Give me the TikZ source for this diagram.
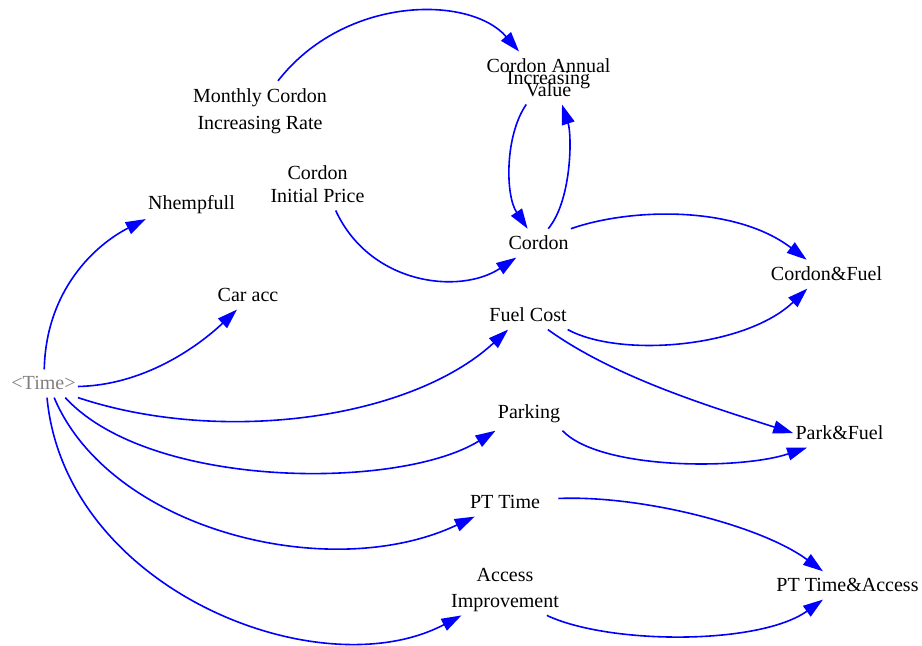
\documentclass[tikz,border=0pt]{standalone}
\usepackage{fontspec}
\setmainfont{Liberation Serif}
\usetikzlibrary{arrows.meta}
\newcommand\tightlines{\fontsize{10}{6}\selectfont\lineskiplimit=-100pt\relax}

\begin{document}
\begin{tikzpicture}[x=0.5pt,y=-0.5pt,
  var/.style={inner xsep=1pt,inner ysep=3.5pt,align=center,font=\fontsize{10}{13.5}\selectfont},
  link/.style={draw=blue,line width=0.8pt,-{Triangle[length=10pt,width=6.5pt]}}]
\useasboundingbox (0,0) rectangle (922,646);
\node[var,anchor=base,text=gray] (time) at (43.5,390) {<Time>};
\node[var,anchor=base] (nhemp) at (191.5,210) {Nhempfull};
\node[var,anchor=base] (caracc) at (248,302) {Car acc};
\node[var,anchor=base] (cordon) at (538.5,250) {Cordon};
\node[var,anchor=base] (fuel) at (528,322) {Fuel Cost};
\node[var,anchor=base] (park) at (529,419) {Parking};
\node[var,anchor=base] (pt) at (505,509) {PT Time};
\node[var,anchor=base] (cfuel) at (826.5,281) {Cordon\&Fuel};
\node[var,anchor=base] (pfuel) at (839.5,440) {Park\&Fuel};
\node[var,anchor=base] (ptacc) at (847.5,592) {PT Time\&Access};
\node[var] (mcir) at (260,110.8) {Monthly Cordon\\Increasing Rate};
\node[var,font=\fontsize{10}{11.5}\selectfont] (cip) at (317.5,184.5) {Cordon\\Initial Price};
\node[var,font=\fontsize{10}{13}\selectfont,inner ysep=1.5pt] (access) at (505,590.3) {Access\\Improvement};
\node[var,font=\tightlines] (cann) at (548.5,78) {Cordon Annual\\Increasing\\Value};

\draw[link] (mcir.59) .. controls (345,-5) and (470,-5) .. (cann.138);
\draw[link] (cann.-130) .. controls (505,135) and (505,195) .. (cordon.127);
\draw[link] (cordon.56) .. controls (572,200) and (572,135) .. (cann.-63);
\draw[link] (cip.-55) .. controls (370,285) and (460,295) .. (cordon.-147);
\draw[link] (cordon.north east) .. controls (630,208) and (735,205) .. (cfuel.144);
\draw[link] (fuel.-20) .. controls (620,358) and (745,348) .. (cfuel.-143);
\draw[link] (fuel.-36) .. controls (615,378) and (715,408) .. (pfuel.west);
\draw[link] (park.south east) .. controls (600,470) and (740,470) .. (pfuel.-156);
\draw[link] ([xshift=8pt,yshift=2pt]pt.east) .. controls (640,495) and (760,525) .. (ptacc.150);
\draw[link] (access.-31) .. controls (610,645) and (760,645) .. (ptacc.-150);
\draw[link] (time.87) .. controls (46,290) and (95,245) .. (nhemp.197);
\draw[link] (time.-5) .. controls (150,385) and (205,340) .. (caracc.-128);
\draw[link] (time.south east) .. controls (220,445) and (410,420) .. (fuel.-144);
\draw[link] (time.-33) .. controls (150,490) and (400,490) .. (park.south west);
\draw[link] (time.-53) .. controls (110,530) and (330,585) .. (pt.-155);
\draw[link] (time.-76) .. controls (65,590) and (320,690) .. (access.-150);
\end{tikzpicture}
\end{document}
